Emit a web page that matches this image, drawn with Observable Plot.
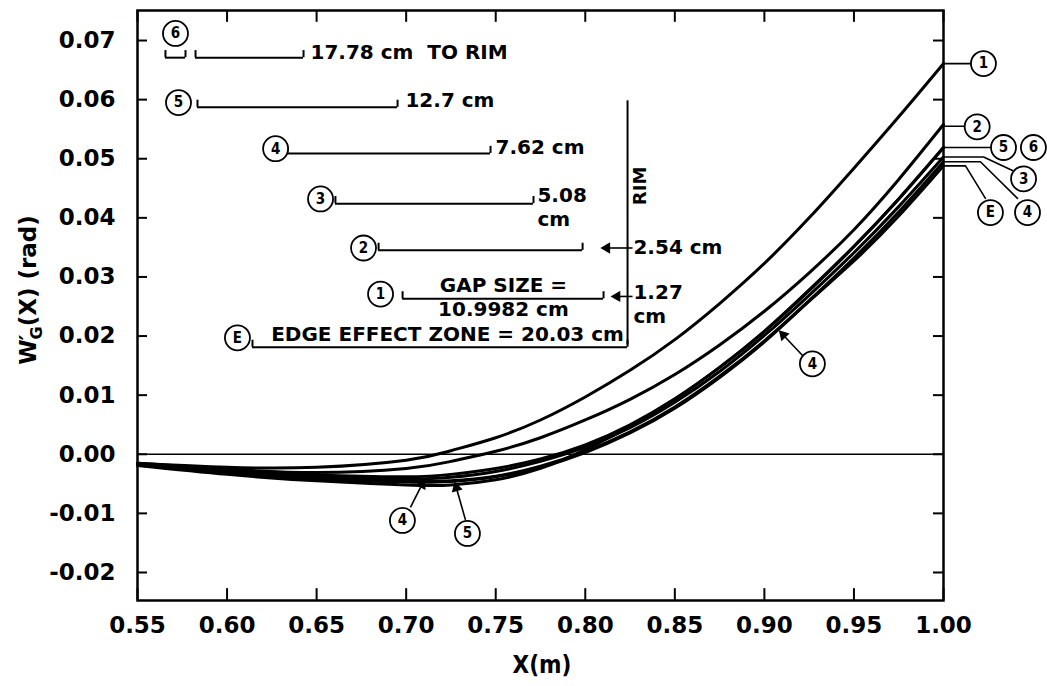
<!DOCTYPE html>
<html>
<head>
<meta charset="utf-8">
<script src="https://cdn.jsdelivr.net/npm/d3@7"></script>
<script src="https://cdn.jsdelivr.net/npm/@observablehq/plot@0.6"></script>
<style>
  html, body { margin: 0; padding: 0; background: #fff; }
  #chart { width: 1047px; height: 686px; }
</style>
</head>
<body>
<div id="chart"></div>
<script>
// Slope of the gap-affected surface, W'_G(X), versus radial position X.
const xs = [0.55, 0.60, 0.65, 0.70, 0.725, 0.75, 0.775, 0.80, 0.825, 0.85, 0.875, 0.90, 0.925, 0.95, 0.975, 1.00];

const curve1 = [-0.0015, -0.0022, -0.0022, -0.0010, 0.0006, 0.0028, 0.0058, 0.0097, 0.0142, 0.0194, 0.0255, 0.0323, 0.0400, 0.0484, 0.0571, 0.0661];
const curve2 = [-0.0015, -0.0025, -0.0031, -0.0024, -0.0012, 0.0005, 0.0028, 0.0058, 0.0093, 0.0135, 0.0185, 0.0242, 0.0307, 0.0380, 0.0465, 0.0558];
const curve3 = [-0.0017, -0.0029, -0.0038, -0.0042, -0.0039, -0.0029, -0.0012, 0.0012, 0.0045, 0.0088, 0.0140, 0.0201, 0.0269, 0.0341, 0.0419, 0.0503];
const curve4 = [-0.0018, -0.0032, -0.0042, -0.0046, -0.0045, -0.0037, -0.0020, 0.0005, 0.0038, 0.0080, 0.0132, 0.0192, 0.0260, 0.0332, 0.0410, 0.0495];
const curve5 = [-0.0019, -0.0034, -0.0045, -0.0052, -0.0052, -0.0043, -0.0024, 0.0008, 0.0047, 0.0093, 0.0147, 0.0208, 0.0278, 0.0352, 0.0432, 0.0519];
const curve6 = [-0.0016, -0.0027, -0.0035, -0.0038, -0.0034, -0.0024, -0.0008, 0.0016, 0.0050, 0.0094, 0.0147, 0.0208, 0.0277, 0.0351, 0.0432, 0.0519];
const curveE = [-0.0018, -0.0031, -0.0041, -0.0047, -0.0046, -0.0038, -0.0022, 0.0003, 0.0036, 0.0078, 0.0130, 0.0190, 0.0259, 0.0327, 0.0403, 0.0488];

const seriesNames = ["1", "2", "3", "4", "5", "6", "E"];
const seriesValues = [curve1, curve2, curve3, curve4, curve5, curve6, curveE];

const xTicks = [0.55, 0.60, 0.65, 0.70, 0.75, 0.80, 0.85, 0.90, 0.95, 1.00];
const yTicks = [-0.02, -0.01, 0.00, 0.01, 0.02, 0.03, 0.04, 0.05, 0.06, 0.07];
const xDomain = [0.55, 1.00];
const yDomain = [-0.02474, 0.07508];

// Gap-size brackets (start, end, level)
const brackets = [
  {x1: 0.5656, x2: 0.5768, y: 0.0671},
  {x1: 0.5824, x2: 0.6427, y: 0.0671},
  {x1: 0.5835, x2: 0.6952, y: 0.0587},
  {x1: 0.6337, x2: 0.7471, y: 0.0509},
  {x1: 0.6605, x2: 0.7711, y: 0.0424},
  {x1: 0.6846, x2: 0.7985, y: 0.0345},
  {x1: 0.6980, x2: 0.8102, y: 0.0263},
  {x1: 0.6142, x2: 0.8236, y: 0.0181}
];
// Labels that begin at the end of a bracket
const leftNotes = [
  {text: "17.78 cm  TO RIM", x: 0.6466, y: 0.0679},
  {text: "12.7 cm", x: 0.6996, y: 0.0599},
  {text: "7.62 cm", x: 0.7499, y: 0.0519},
  {text: "5.08", x: 0.7733, y: 0.0438},
  {text: "cm", x: 0.7733, y: 0.0397},
  {text: "2.54 cm", x: 0.8269, y: 0.0349},
  {text: "1.27", x: 0.8269, y: 0.0274},
  {text: "cm", x: 0.8269, y: 0.0233}
];
// Labels centred over a bracket
const centerNotes = [
  {text: "GAP SIZE =", x: 0.7543, y: 0.0285},
  {text: "10.9982 cm", x: 0.7543, y: 0.0244},
  {text: "EDGE EFFECT ZONE = 20.03 cm", x: 0.7231, y: 0.0203}
];
const rimLine = {x: 0.8236, y1: 0.0598, y2: 0.0185};
const rimNote = {text: "RIM", x: 0.8308, y: 0.0454};

// Circled tags
const tagLabels = ["6", "5", "4", "3", "2", "1", "E", "1", "2", "5", "6", "3", "4", "E", "4", "5", "4"];
const tagX = [0.5712, 0.5729, 0.6271, 0.6522, 0.6762, 0.6857, 0.6058, 1.0223, 1.0188, 1.0335, 1.0502, 1.0447, 1.0469, 1.0262, 0.6979, 0.7342, 0.9268];
const tagY = [0.0712, 0.0595, 0.0517, 0.0432, 0.0349, 0.0271, 0.0197, 0.0661, 0.0554, 0.0519, 0.0519, 0.0466, 0.0409, 0.0409, -0.0112, -0.0134, 0.0153];

// Leader lines from the curve ends to the tags on the right
const leaders = [
  {id: "1", pts: [[1.0, 0.0661], [1.0150, 0.0661]]},
  {id: "2", pts: [[1.0, 0.0555], [1.0117, 0.0555]]},
  {id: "56", pts: [[1.0, 0.0519], [1.0262, 0.0519]]},
  {id: "3", pts: [[1.0, 0.0503], [1.0224, 0.0503], [1.0385, 0.0480]]},
  {id: "4", pts: [[1.0, 0.0495], [1.0206, 0.0495], [1.0413, 0.0433]]},
  {id: "E", pts: [[1.0, 0.0488], [1.0123, 0.0488], [1.0234, 0.0433]]}
];

// Pointer arrows (tail -> tip): tag to curve, and the rim offsets
const arrows = [
  {x1: 0.7024, y1: -0.0090, x2: 0.7097, y2: -0.0046},
  {x1: 0.7331, y1: -0.0111, x2: 0.7275, y2: -0.0051},
  {x1: 0.9213, y1: 0.0167, x2: 0.9092, y2: 0.0206},
  {x1: 0.8264, y1: 0.0349, x2: 0.8101, y2: 0.0349},
  {x1: 0.8264, y1: 0.0267, x2: 0.8158, y2: 0.0267}
];

// Tables built from the arrays above
const curves = seriesNames.flatMap((name, i) => xs.map((x, j) => ({series: name, x, y: seriesValues[i][j]})));
const tags = tagLabels.map((label, i) => ({label, x: tagX[i], y: tagY[i]}));
const leaderPts = leaders.flatMap(l => l.pts.map(([x, y]) => ({id: l.id, x, y})));
const hookH = 0.0012;
const hooks = brackets.flatMap(b => [{x: b.x1, y1: b.y, y2: b.y + hookH}, {x: b.x2, y1: b.y, y2: b.y + hookH}]);

const W = 1047, H = 686, mL = 137, mR = 104, mT = 10, mB = 86;
const pxPerX = (W - mL - mR) / (xDomain[1] - xDomain[0]);
const pxPerY = (H - mT - mB) / (yDomain[1] - yDomain[0]);
// heading of each arrow on screen, clockwise from straight up
const heads = arrows.map(a => {
  const dx = (a.x2 - a.x1) * pxPerX, dy = -(a.y2 - a.y1) * pxPerY;
  const len = Math.hypot(dx, dy), back = 3.5;
  return {
    x: a.x2 - (dx / len) * back / pxPerX,
    y: a.y2 + (dy / len) * back / pxPerY,
    angle: Math.atan2(dx, -dy) * 180 / Math.PI
  };
});

const yFmt = d => (d < 0 ? "-" : "") + Math.abs(d).toFixed(2);
const tickW = 0.0056;   // inward tick length along x
const tickH = 0.0020;   // inward tick length along y

const annFont = "'DejaVu Sans', 'Liberation Sans', sans-serif";
const tagFont = "'DejaVu Sans Condensed', 'Liberation Sans Narrow', 'Roboto', sans-serif";

const chart = Plot.plot({
  width: W,
  height: H,
  marginLeft: mL,
  marginRight: mR,
  marginTop: mT,
  marginBottom: mB,
  style: {fontFamily: annFont, fontWeight: "bold", fontSize: "23px", background: "white", color: "black", overflow: "visible"},
  x: {domain: xDomain, label: null},
  y: {domain: yDomain, label: null},
  marks: [
    // inward ticks on all four sides
    Plot.ruleY(yTicks, {x1: xDomain[0], x2: xDomain[0] + tickW, stroke: "black", strokeWidth: 2}),
    Plot.ruleY(yTicks, {x1: xDomain[1] - tickW, x2: xDomain[1], stroke: "black", strokeWidth: 2}),
    Plot.ruleX(xTicks, {y1: yDomain[0], y2: yDomain[0] + tickH, stroke: "black", strokeWidth: 2}),
    Plot.ruleX(xTicks, {y1: yDomain[1] - tickH, y2: yDomain[1], stroke: "black", strokeWidth: 2}),
    Plot.axisX({ticks: xTicks, tickSize: 0, tickPadding: 16, tickFormat: d => d.toFixed(2), fontSize: 23, fontWeight: "bold"}),
    Plot.axisY({ticks: yTicks, tickSize: 0, tickPadding: 22, tickFormat: yFmt, fontSize: 23, fontWeight: "bold"}),
    Plot.ruleY([0], {stroke: "black", strokeWidth: 1.6}),
    // the curves
    Plot.line(curves, {x: "x", y: "y", z: "series", curve: "natural", stroke: "black", strokeWidth: 3}),
    // brackets and the rim marker
    Plot.ruleY(brackets, {x1: "x1", x2: "x2", y: "y", stroke: "black", strokeWidth: 2}),
    Plot.ruleX(hooks, {x: "x", y1: "y1", y2: "y2", stroke: "black", strokeWidth: 2}),
    Plot.ruleX([rimLine], {x: "x", y1: "y1", y2: "y2", stroke: "black", strokeWidth: 2}),
    Plot.text(leftNotes, {x: "x", y: "y", text: "text", textAnchor: "start", fontSize: 20, fontWeight: "bold", fontFamily: annFont, fill: "black"}),
    Plot.text(centerNotes, {x: "x", y: "y", text: "text", textAnchor: "middle", fontSize: 20, fontWeight: "bold", fontFamily: annFont, fill: "black"}),
    Plot.text([rimNote], {x: "x", y: "y", text: "text", rotate: -90, fontSize: 18, fontWeight: "bold", fontFamily: annFont, fill: "black"}),
    // leaders and arrows with solid heads
    Plot.line(leaderPts, {x: "x", y: "y", z: "id", stroke: "black", strokeWidth: 1.6}),
    Plot.link(arrows, {x1: "x1", y1: "y1", x2: "x2", y2: "y2", stroke: "black", strokeWidth: 1.6}),
    Plot.dot(heads, {x: "x", y: "y", rotate: "angle", symbol: "triangle", r: 4.2, fill: "black", stroke: "none"}),
    // circled tags
    Plot.dot(tags, {x: "x", y: "y", r: 12.5, stroke: "black", strokeWidth: 1.8, fill: "white"}),
    Plot.text(tags, {x: "x", y: "y", text: "label", fontSize: 15, fontWeight: "bold", fontFamily: tagFont, fill: "black"}),
    Plot.frame({stroke: "black", strokeWidth: 2.5})
  ]
});

document.getElementById("chart").appendChild(chart);

// Axis titles, with the prime and subscript on the y title
const svg = d3.select(chart);
svg.append("text")
  .attr("x", 542).attr("y", 673)
  .attr("text-anchor", "middle")
  .style("font-family", "'DejaVu Sans Condensed', 'Liberation Sans Narrow', 'Liberation Sans', sans-serif")
  .style("font-weight", "bold").style("font-size", "24px")
  .text("X(m)");

const yTitle = svg.append("text")
  .attr("transform", "translate(36,290) rotate(-90)")
  .attr("text-anchor", "middle")
  .style("font-family", "'DejaVu Sans', 'Liberation Sans', sans-serif")
  .style("font-weight", "bold").style("font-size", "23px");
yTitle.append("tspan").text("W");
yTitle.append("tspan").text("′").attr("dx", "-1");
yTitle.append("tspan").text("G").attr("dx", "-5").attr("dy", "6").style("font-size", "16px");
yTitle.append("tspan").text("(X) (rad)").attr("dy", "-6");
</script>
</body>
</html>
